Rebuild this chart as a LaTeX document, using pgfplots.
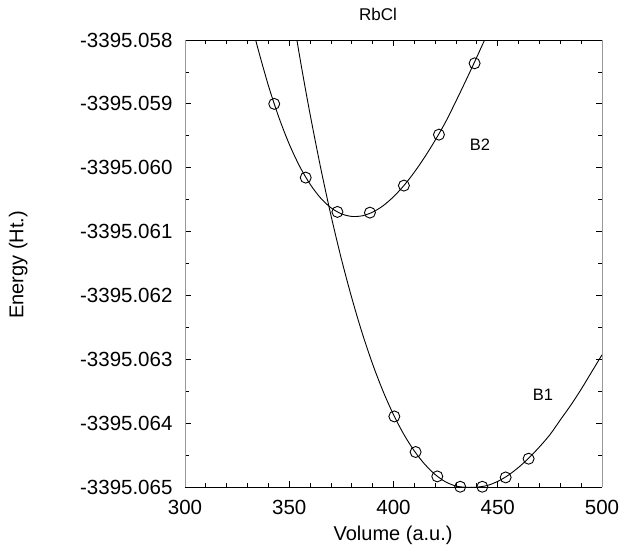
\documentclass[border=0pt]{standalone}
\usepackage{pgfplots}
\pgfplotsset{compat=1.18}
\usepackage{fontspec}
\setmainfont{Liberation Sans}
% Energies are stored as E + 3395 (Ht.), so that E = -3395 + value.
\begin{document}
\begin{tikzpicture}
\useasboundingbox (-185pt,-63pt) rectangle (434pt,487pt);
\begin{axis}[
  at={(0,0)}, anchor=south west,
  scale only axis, width=417pt, height=447pt,
  xmin=300, xmax=500, ymin=-0.065, ymax=-0.058,
  xtick={300,350,400,450,500},
  minor x tick num=4,
  ytick={-0.065,-0.064,-0.063,-0.062,-0.061,-0.060,-0.059,-0.058},
  yticklabels={-3395.065,-3395.064,-3395.063,-3395.062,-3395.061,-3395.060,-3395.059,-3395.058},
  minor y tick num=1,
  tick align=inside,
  major tick length=6pt, minor tick length=4pt,
  tick style={black, line width=0.8pt},
  separate axis lines,
  x axis line style={black, line width=0.9pt},
  y axis line style={gray!80, line width=0.9pt},
  /pgf/number format/assume math mode=true,
  scaled y ticks=false,
  xticklabel style={font=\fontsize{20.5}{24}\selectfont, yshift=-10pt},
  yticklabel style={font=\fontsize{20.5}{24}\selectfont, xshift=-9pt},
  xlabel={Volume (a.u.)},
  ylabel={Energy (Ht.)},
  xlabel style={font=\fontsize{20}{24}\selectfont, at={(axis description cs:0.499,-0.107)}, anchor=center},
  ylabel style={font=\fontsize{20}{24}\selectfont, at={(axis description cs:-0.40,0.497)}, anchor=center},
  clip=true,
  clip marker paths=false,
]
% B1 fitted curve
\addplot[black, line width=0.9pt, smooth] coordinates {
(352,-0.05768) (356,-0.058446) (360,-0.059163) (365,-0.059991) (370,-0.060745)
(375,-0.061428) (380,-0.06204) (385,-0.062591) (390,-0.063076) (395,-0.063501)
(400,-0.063867) (405,-0.064178) (410,-0.064436) (415,-0.064644) (420,-0.064805)
(425,-0.06492) (430,-0.064985) (435,-0.065005) (440,-0.065002) (445,-0.064976)
(450,-0.064912) (455,-0.064817) (460,-0.064692) (465,-0.064543) (470,-0.064372)
(475,-0.064182) (480,-0.06395) (485,-0.06372) (490,-0.06347) (495,-0.0632)
(500,-0.06293)
};
% B2 fitted curve
\addplot[black, line width=0.9pt, smooth] coordinates {
(332,-0.057752) (335,-0.058137) (340,-0.058714) (345,-0.05921) (350,-0.059631)
(355,-0.059979) (360,-0.060258) (365,-0.060473) (370,-0.060627) (375,-0.060722)
(380,-0.060763) (385,-0.060753) (390,-0.060696) (395,-0.060596) (400,-0.060455)
(405,-0.060279) (410,-0.06007) (415,-0.059832) (420,-0.059569) (425,-0.059283)
(430,-0.058955) (435,-0.058615) (440,-0.058265) (445,-0.057905)
};
% B1 data
\addplot[only marks, mark=o, mark size=5.5pt, mark options={black, line width=0.9pt}] coordinates {
(400.4,-0.063895) (410.6,-0.064452) (421.0,-0.064834) (432.0,-0.064996)
(442.6,-0.064996) (453.8,-0.064850) (464.8,-0.064557)
};
% B2 data
\addplot[only marks, mark=o, mark size=5.5pt, mark options={black, line width=0.9pt}] coordinates {
(342.8,-0.059000) (357.9,-0.060155) (373.1,-0.060692) (388.7,-0.060703)
(405.0,-0.060280) (421.8,-0.059482) (438.9,-0.058365)
};
\node[font=\fontsize{16.5}{19}\selectfont] at (axis cs:441.5,-0.059643) {B2};
\node[font=\fontsize{16.5}{19}\selectfont] at (axis cs:471.7,-0.063556) {B1};
\draw[black, line width=0.9pt] (rel axis cs:1,0) -- (rel axis cs:1,1);
\end{axis}
\node[inner sep=0pt] at (193pt,473pt) {\fontsize{17}{20}\selectfont RbCl};
\end{tikzpicture}
\end{document}
